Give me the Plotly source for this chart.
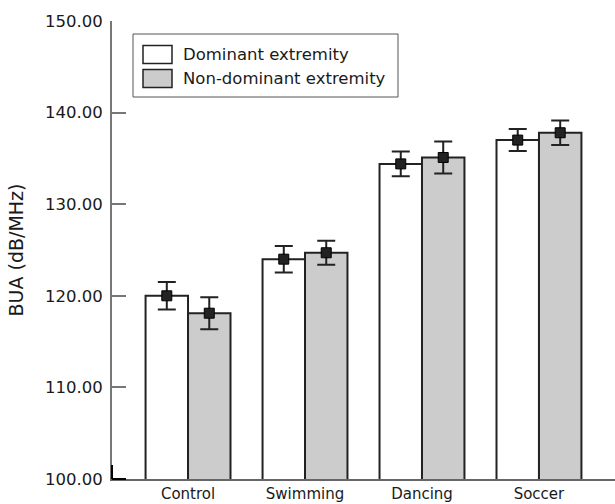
import plotly.graph_objects as go

categories = ["Control", "Swimming", "Dancing", "Soccer"]
series_names = ["Dominant extremity", "Non-dominant extremity"]
dominant = [120.0, 124.0, 134.4, 137.0]
dominant_err = [1.5, 1.45, 1.35, 1.2]
nondominant = [118.1, 124.7, 135.1, 137.8]
nondominant_err = [1.75, 1.3, 1.75, 1.35]
y_ticks = [100, 110, 120, 130, 140, 150]
y_ticktext = ["100.00", "110.00", "120.00", "130.00", "140.00", "150.00"]

fills = ["#ffffff", "#cccccc"]
FONT = "DejaVu Sans"
TXT = "#1a1a1a"

fig = go.Figure()
for name, vals, fill, grp in [
    (series_names[0], dominant, fills[0], "a"),
    (series_names[1], nondominant, fills[1], "b"),
]:
    fig.add_trace(go.Bar(
        x=categories, y=vals, name=name, offsetgroup=grp,
        marker=dict(color=fill, line=dict(color="#222222", width=2)),
        showlegend=False,
    ))
for name, vals, errs, grp in [
    (series_names[0], dominant, dominant_err, "a"),
    (series_names[1], nondominant, nondominant_err, "b"),
]:
    fig.add_trace(go.Scatter(
        x=categories, y=vals, mode="markers", offsetgroup=grp, name=name,
        marker=dict(symbol="square", size=10, color="#222222",
                    line=dict(color="#000000", width=1)),
        error_y=dict(type="data", array=errs, visible=True,
                     thickness=2, width=9, color="#222222"),
        showlegend=False,
    ))

fig.update_layout(
    width=615, height=504,
    margin=dict(l=112, r=0, t=21, b=25),
    paper_bgcolor="white", plot_bgcolor="white",
    barmode="group", bargap=0.274, bargroupgap=0,
    scattermode="group", scattergap=0.274,
    font=dict(family=FONT, color=TXT, size=16),
    showlegend=False,
)
fig.update_xaxes(
    range=[-0.65, 3.65], showgrid=False, zeroline=False,
    showline=True, linecolor="#666666", linewidth=1.5,
    ticks="", tickfont=dict(size=15, family=FONT, color=TXT),
)
fig.update_yaxes(
    range=[100, 150], tickvals=y_ticks, ticktext=y_ticktext,
    showgrid=False, zeroline=False,
    showline=True, linecolor="#777777", linewidth=2,
    ticks="inside", ticklen=14, tickwidth=1.5, tickcolor="#777777",
    ticklabelstandoff=4,
    tickfont=dict(size=16.5, family=FONT, color=TXT),
    title=dict(text="BUA (dB/MHz)", font=dict(size=19, family=FONT, color=TXT), standoff=16),
)

# legend drawn as a box with two swatches
def px_x(px):
    return (px - 112) / 503.0

def px_y(py):
    return (479 - py) / 458.0

fig.add_shape(type="rect", xref="paper", yref="paper",
              x0=px_x(133), x1=px_x(398), y0=px_y(97), y1=px_y(34),
              line=dict(color="#555555", width=1), fillcolor="white")
rows = [(45.5, 63.5), (69.5, 87.5)]
for (t, b), name, fill in zip(rows, series_names, fills):
    fig.add_shape(type="rect", xref="paper", yref="paper",
                  x0=px_x(143), x1=px_x(172), y0=px_y(b), y1=px_y(t),
                  line=dict(color="#222222", width=1.5), fillcolor=fill)
    fig.add_annotation(xref="paper", yref="paper", x=px_x(181), y=px_y((t + b) / 2),
                       text=name, showarrow=False, xanchor="left", yanchor="middle",
                       font=dict(size=16.5, family=FONT, color=TXT))

# dark corner mark at the origin
fig.add_shape(type="line", xref="paper", yref="paper",
              x0=0, x1=px_x(126), y0=0, y1=0, line=dict(color="#000000", width=2))
fig.add_shape(type="line", xref="paper", yref="paper",
              x0=0, x1=0, y0=0, y1=px_y(465), line=dict(color="#000000", width=2))

fig.write_html("out.html", config={"displayModeBar": False},
               post_script="document.body.style.margin='0';")
